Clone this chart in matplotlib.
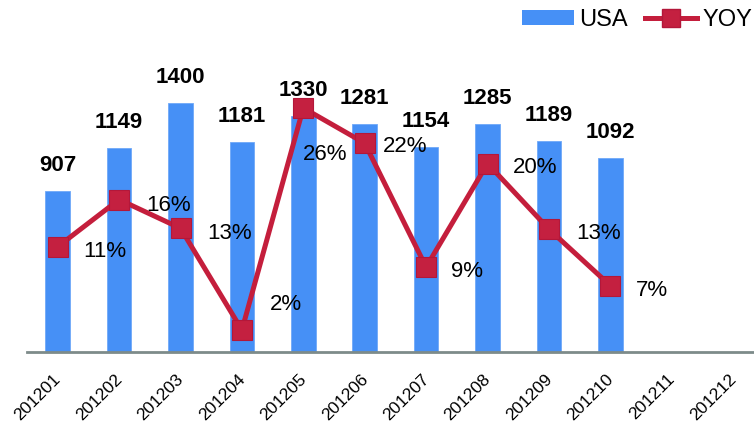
import matplotlib
matplotlib.use('Agg')
import matplotlib.pyplot as plt
from matplotlib.transforms import ScaledTranslation
from matplotlib.lines import Line2D
from matplotlib.patches import Patch

# data
months = ['201201', '201202', '201203', '201204', '201205', '201206',
          '201207', '201208', '201209', '201210', '201211', '201212']
usa = [907, 1149, 1400, 1181, 1330, 1281, 1154, 1285, 1189, 1092]
yoy = [11.0, 16.1, 13.0, 2.0, 26.0, 22.2, 8.8, 20.0, 12.9, 6.8]

# label offsets for the YOY values (pixels, from the marker centre)
yoy_offsets = [(26, -10), (27, -11), (27, -11), (28, 20), (0, -52),
               (18, -9), (25, -10), (25, -9), (27, -10), (26, -10)]

BAR_COLOR = '#4690F6'
LINE_COLOR = '#C41E3C'
AXIS_COLOR = '#7D8B8A'
FONT = ['Liberation Sans', 'DejaVu Sans']

fig = plt.figure(figsize=(7.54, 4.25), dpi=100)
# baseline at y=352 px, left edge at x=27 px
ax = fig.add_axes([27 / 754, 73 / 425, 727 / 754, 312 / 425])
ax2 = ax.twinx()

x = list(range(len(months)))
bars = ax.bar(x[:len(usa)], usa, width=0.4, color=BAR_COLOR,
              edgecolor='#6FA8F8', linewidth=0.6, zorder=2)

ax.set_xlim(-0.5, 11.34)
ax.set_ylim(0, 312 / 0.1777)
ax2.set_ylim((348.5 - 352) / 9.25, (348.5 - 40) / 9.25)

for i, v in enumerate(usa):
    ax.annotate(str(v), (i, v), xytext=(0, 20), textcoords='offset pixels',
                ha='center', va='baseline', fontsize=16, fontweight='bold',
                family=FONT, color='black')

ax2.plot(x[:len(yoy)], yoy, color=LINE_COLOR, linewidth=3.6, marker='s',
         markersize=14.4, markerfacecolor='#C42040', markeredgecolor='#B3173A',
         markeredgewidth=0.8, zorder=3)

for i, v in enumerate(yoy):
    dx, dy = yoy_offsets[i]
    ax2.annotate(f'{round(v)}%', (i, v), xytext=(dx, dy), textcoords='offset pixels',
                 ha='left', va='baseline', fontsize=16,
                 family=FONT, color='black')

for a in (ax, ax2):
    for side in ('top', 'right', 'left'):
        a.spines[side].set_visible(False)
    a.set_yticks([])
ax2.spines['bottom'].set_visible(False)
ax.spines['bottom'].set_color(AXIS_COLOR)
ax.spines['bottom'].set_linewidth(2.0)
ax.spines['bottom'].set_zorder(4)

ax.set_xticks(x)
ax.set_xticklabels(months, rotation=45, ha='right', va='top', fontsize=12.5,
                   family=FONT)
ax.tick_params(axis='x', length=0, pad=14)
for lab in ax.get_xticklabels():
    lab.set_transform(lab.get_transform() + ScaledTranslation(6 / 100, 0, fig.dpi_scale_trans))

handles = [Patch(facecolor=BAR_COLOR, edgecolor='none', label='USA'),
           Line2D([], [], color=LINE_COLOR, linewidth=3.6, marker='s', markersize=12.5,
                  markerfacecolor='#C42040', markeredgecolor='#B3173A', label='YOY')]
fig.legend(handles=handles, loc='center right', bbox_to_anchor=(752 / 754, 1 - 20 / 425),
           ncol=2, frameon=False, handlelength=2.2, handleheight=0.6,
           handletextpad=0.2, columnspacing=0.75, borderpad=0, borderaxespad=0,
           prop={'family': FONT, 'size': 17})

fig.savefig('out.png', dpi=100)
